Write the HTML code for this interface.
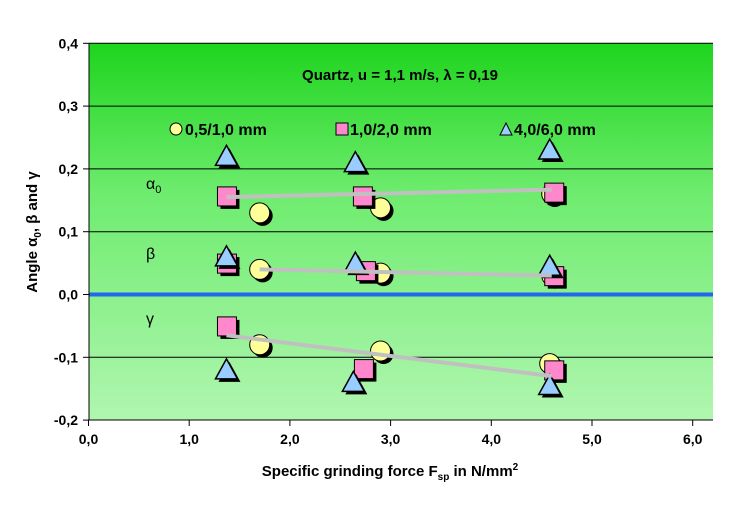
<!DOCTYPE html>
<html><head><meta charset="utf-8"><style>
body{margin:0;background:#fff;}
svg text{font-family:"Liberation Sans",Arial,sans-serif;font-weight:bold;}
</style></head><body>
<svg width="747" height="508" viewBox="0 0 747 508">
<defs>
<linearGradient id="bg" x1="0" y1="0" x2="0" y2="1">
<stop offset="0" stop-color="#1ed41e"/><stop offset="0.4" stop-color="#6eec6e"/><stop offset="1" stop-color="#b0f6b0"/>
</linearGradient>
</defs>
<rect x="89" y="43" width="624" height="377" fill="url(#bg)"/>
<g id="grid"></g>
<g id="axes"></g>
<g id="marks"></g>
<g id="trends"></g>
<text x="400" y="80" font-size="15" text-anchor="middle">Quartz, u = 1,1 m/s, λ = 0,19</text>
<g>
<g><circle cx="176" cy="129" r="6" fill="#ffff99" stroke="#000"/><text x="185" y="135" font-size="16">0,5/1,0 mm</text></g>
<g><rect x="336" y="123" width="12" height="12" fill="#ff88cc" stroke="#000"/><text x="350" y="135" font-size="16">1,0/2,0 mm</text></g>
<g><polygon points="506,123 500,135 512,135" fill="#99ccff" stroke="#000"/><text x="514" y="135" font-size="16">4,0/6,0 mm</text></g>
</g>
<text x="146" y="189" font-size="16" style="font-weight:normal">α<tspan font-size="11" dy="4">0</tspan></text>
<text x="146" y="259" font-size="16" style="font-weight:normal">β</text>
<text x="146" y="324" font-size="16" style="font-weight:normal">γ</text>
<text x="390" y="476" font-size="15" text-anchor="middle">Specific grinding force F<tspan font-size="10" dy="4">sp</tspan><tspan dy="-4"> in N/mm</tspan><tspan font-size="10" dy="-6">2</tspan></text>
<text transform="translate(37,232) rotate(-90)" font-size="15" text-anchor="middle">Angle α<tspan font-size="10" dy="4">0</tspan><tspan dy="-4">, β and γ</tspan></text>
</svg>
<script>
const xTicks=[0,1,2,3,4,5,6];
const xTickLabels=["0,0","1,0","2,0","3,0","4,0","5,0","6,0"];
const yTicks=[-0.2,-0.1,0,0.1,0.2,0.3,0.4];
const yTickLabels=["-0,2","-0,1","0,0","0,1","0,2","0,3","0,4"];
const circleX=[1.7,2.9,4.6,1.7,2.9,4.6,1.7,2.9,4.58];
const circleY=[0.13,0.138,0.16,0.04,0.034,0.03,-0.08,-0.09,-0.11];
const squareX=[1.37,2.72,4.62,1.37,2.75,4.62,1.37,2.73,4.62];
const squareY=[0.157,0.157,0.163,0.05,0.038,0.03,-0.05,-0.118,-0.12];
const triX=[1.37,2.65,4.58,1.37,2.65,4.58,1.37,2.63,4.58];
const triY=[0.22,0.21,0.23,0.06,0.05,0.045,-0.12,-0.14,-0.145];
const trendX1=[1.37,1.7,1.37];
const trendY1=[0.155,0.04,-0.065];
const trendX2=[4.6,4.6,4.6];
const trendY2=[0.167,0.03,-0.13];
const trendNames=["trend-alpha0","trend-beta","trend-gamma"];
const NS="http://www.w3.org/2000/svg";
const X=v=>88.5+v*100.7;
const Y=v=>294.5-v*628;
function mk(tag,attrs,parent){const e=document.createElementNS(NS,tag);for(const k in attrs)e.setAttribute(k,attrs[k]);document.getElementById(parent).appendChild(e);return e;}
yTicks.forEach((t,i)=>{
 if(t!==0&&t!==-0.2){const l=mk('line',{x1:89,x2:713,y1:Y(t),y2:Y(t),stroke:'#000','stroke-width':1},'grid');
 
 }
 const tk=mk('line',{x1:83,x2:89,y1:Y(t),y2:Y(t),stroke:'#000'},'axes');
 
 
 const tx=mk('text',{x:78,y:Y(t)+5,'font-size':14,'text-anchor':'end'},'axes');tx.textContent=yTickLabels[i];
 
 
});
const zl=mk('line',{x1:89,x2:713,y1:Y(0),y2:Y(0),stroke:'#2266ee','stroke-width':4},'grid');


const ya=mk('line',{x1:89,x2:89,y1:43,y2:420,stroke:'#000'},'axes');


const xa=mk('line',{x1:89,x2:713,y1:420,y2:420,stroke:'#000'},'axes');


xTicks.forEach((t,i)=>{
 const tk=mk('line',{x1:X(t),x2:X(t),y1:420,y2:426,stroke:'#000'},'axes');
 
 
 const tx=mk('text',{x:X(t),y:444,'font-size':14,'text-anchor':'middle'},'axes');tx.textContent=xTickLabels[i];
 
 
});
trendX1.forEach((_,i)=>{
 const l=mk('line',{x1:X(trendX1[i]),y1:Y(trendY1[i]),x2:X(trendX2[i]),y2:Y(trendY2[i]),stroke:'#c0c0c0','stroke-width':4},'trends');
 
 
});
function tri(cx,cy,dx){return `${cx+dx},${cy-11+dx} ${cx-11+dx},${cy+9+dx} ${cx+11+dx},${cy+9+dx}`;}
circleX.forEach((v,i)=>{const cx=X(v),cy=Y(circleY[i]);
 mk('circle',{cx:cx+3,cy:cy+3,r:10,fill:'#000'},'marks');
 const c=mk('circle',{cx:cx,cy:cy,r:10,fill:'#ffff99',stroke:'#000','stroke-width':1},'marks');
 
 
});
squareX.forEach((v,i)=>{const cx=X(v),cy=Y(squareY[i]);
 mk('rect',{x:cx-9+3,y:cy-9+3,width:19,height:19,fill:'#000'},'marks');
 const r=mk('rect',{x:cx-9,y:cy-9,width:19,height:19,fill:'#ff88cc',stroke:'#000','stroke-width':1},'marks');
 
 
});
triX.forEach((v,i)=>{const cx=X(v),cy=Y(triY[i]);
 mk('polygon',{points:tri(cx,cy,3),fill:'#000'},'marks');
 const p=mk('polygon',{points:tri(cx,cy,0),fill:'#99ccff',stroke:'#000','stroke-width':1.5},'marks');
 
 
});
</script>
</body></html>
